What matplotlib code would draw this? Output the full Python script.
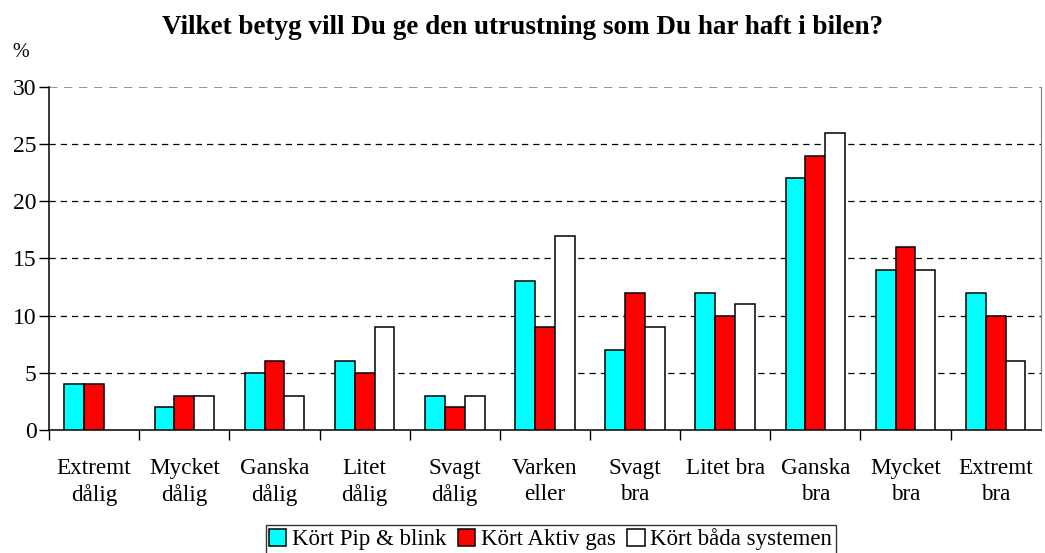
import matplotlib
matplotlib.use('Agg')
import matplotlib.pyplot as plt
import numpy as np

categories = ['Extremt\ndålig', 'Mycket\ndålig', 'Ganska\ndålig', 'Litet\ndålig', 'Svagt\ndålig',
              'Varken\neller', 'Svagt\nbra', 'Litet bra', 'Ganska\nbra', 'Mycket\nbra', 'Extremt\nbra']
pip_blink = [4, 2, 5, 6, 3, 13, 7, 12, 22, 14, 12]
aktiv_gas = [4, 3, 6, 5, 2, 9, 12, 10, 24, 16, 10]
bada_system = [0, 3, 3, 9, 3, 17, 9, 11, 26, 14, 6]
series_names = ['Kört Pip & blink', 'Kört Aktiv gas', 'Kört båda systemen']
colors = ['#00ffff', '#ff0000', '#ffffff']

plt.rcParams['font.family'] = ['Liberation Serif', 'DejaVu Serif']

fig = plt.figure(figsize=(10.45, 5.53), dpi=100)
ax = fig.add_axes([0.0469, 0.2224, 0.9491, 0.6203])

x = np.arange(len(categories))
w = 0.22
for i, vals in enumerate([pip_blink, aktiv_gas, bada_system]):
    v = np.array(vals)
    # skip zero bars so they don't leave an outline
    ax.bar(x[v > 0] + (i - 1) * w, v[v > 0], width=w, color=colors[i],
           edgecolor='black', linewidth=1.1, label=series_names[i], zorder=3)

ax.set_xlim(-0.5, len(categories) - 0.5)
ax.set_ylim(0, 30)
ax.set_yticks(range(0, 31, 5))
for yv in range(5, 30, 5):
    ax.axhline(yv, color='black', linestyle=(0, (5, 4)), linewidth=0.9, zorder=1)
ax.axhline(30, color='#808080', linestyle=(0, (5, 4)), linewidth=1.2, zorder=1)

# ticks between categories, labels at centres
ax.set_xticks(np.arange(-0.5, len(categories) - 0.5, 1))
ax.set_xticklabels([])
ax.set_xticks(x, minor=True)
ax.set_xticklabels(categories, minor=True, fontsize=16.7, linespacing=1.3)
ax.tick_params(axis='x', which='major', length=7, width=1, direction='out')
ax.tick_params(axis='x', which='minor', length=0, pad=20)
ax.tick_params(axis='y', length=7, width=1, direction='out', labelsize=17, pad=2)

ax.spines['top'].set_visible(False)
ax.spines['right'].set_color('#808080')
ax.spines['left'].set_linewidth(1.1)
ax.spines['bottom'].set_linewidth(1.1)

fig.text(0.5, 0.95, 'Vilket betyg vill Du ge den utrustning som Du har haft i bilen?',
         ha='center', va='center', fontsize=19.5, fontweight='bold')
fig.text(0.02, 0.905, '%', ha='center', va='center', fontsize=14.5)

leg = fig.legend(loc='upper center', bbox_to_anchor=(0.527, 0.051), ncol=3, fontsize=16.5,
                 frameon=True, fancybox=False, edgecolor='black', handlelength=0.75,
                 handleheight=0.75, handletextpad=0.25, columnspacing=0.5,
                 borderpad=0.15, borderaxespad=0.0)
leg.get_frame().set_linewidth(1.0)

fig.savefig('out.png', dpi=100)
